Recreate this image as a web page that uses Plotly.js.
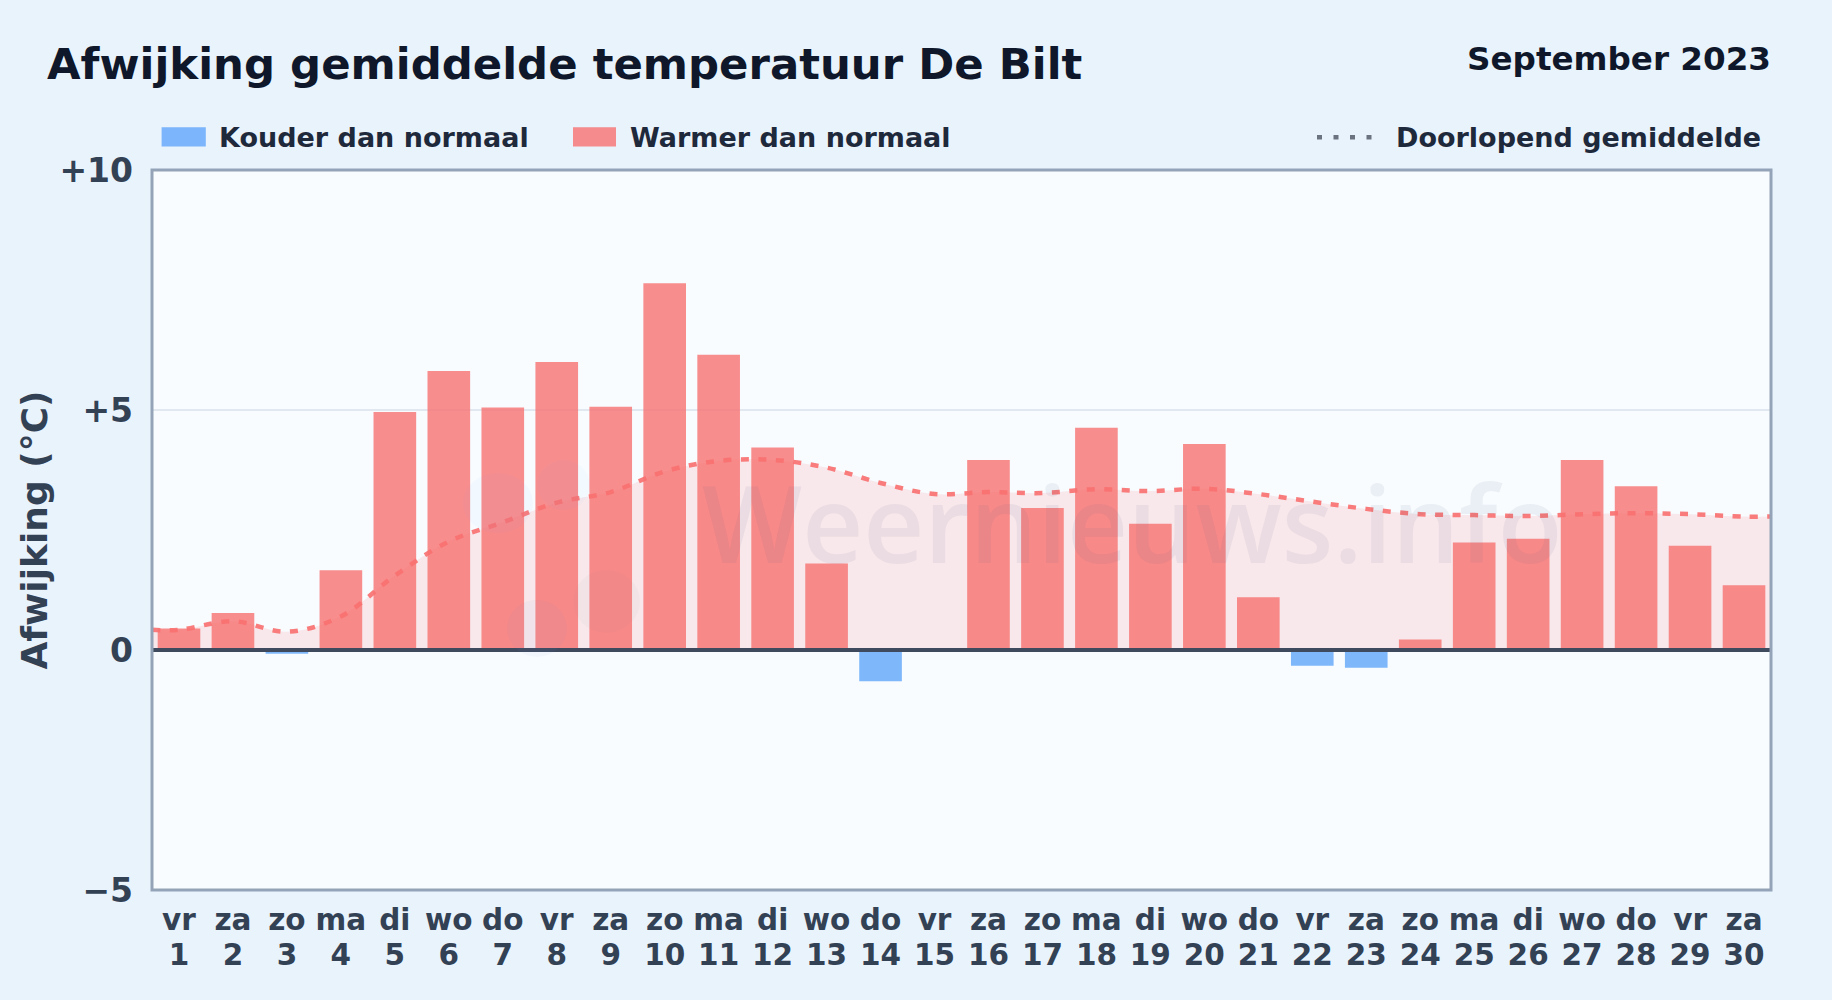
<!DOCTYPE html>
<html><head><meta charset="utf-8">
<script src="https://cdn.plot.ly/plotly-3.0.1.min.js"></script>
<style>html,body{margin:0;padding:0;background:#e9f3fc;width:1832px;height:1000px;overflow:hidden}</style>
</head><body><div id="chart" style="width:1832px;height:1000px"></div>
<script>
const days = [1,2,3,4,5,6,7,8,9,10,11,12,13,14,15,16,17,18,19,20,21,22,23,24,25,26,27,28,29,30];
const weekdays = ['vr','za','zo','ma','di','wo','do','vr','za','zo','ma','di','wo','do','vr','za','zo','ma','di','wo','do','vr','za','zo','ma','di','wo','do','vr','za'];
const warm = [0.45,0.77,null,1.66,4.96,5.81,5.05,6.0,5.07,7.64,6.15,4.22,1.8,null,null,3.96,2.96,4.63,2.63,4.29,1.1,null,null,0.22,2.24,2.32,3.96,3.41,2.17,1.35];
const cold = [null,null,-0.08,null,null,null,null,null,null,null,null,null,null,-0.65,null,null,null,null,null,null,null,-0.33,-0.37,null,null,null,null,null,null,null];
const meanX = [0.5,1,2,3,4,5,6,7,8,9,10,11,12,13,14,15,16,17,18,19,20,21,22,23,24,25,26,27,28,29,30,30.5];
const meanY = [0.42,0.42,0.60,0.38,0.70,1.55,2.26,2.66,3.07,3.29,3.72,3.94,3.96,3.80,3.48,3.25,3.29,3.27,3.35,3.31,3.36,3.25,3.09,2.94,2.83,2.81,2.79,2.83,2.85,2.83,2.78,2.78];
const yTicks = [-5,0,5,10];
const yLabels = ['−5','0','+5','+10'];
const titleText = 'Afwijking gemiddelde temperatuur De Bilt';
const periodText = 'September 2023';
const legendCold = 'Kouder dan normaal';
const legendWarm = 'Warmer dan normaal';
const legendMean = 'Doorlopend gemiddelde';
const watermark = 'Weernieuws.info';

const F = '"DejaVu Sans", sans-serif';
const traces = [
  {type:'scatter',mode:'lines',x:meanX,y:meanY,fill:'tozeroy',fillcolor:'rgba(248,113,113,0.14)',line:{width:0,shape:'spline',smoothing:1,color:'rgba(0,0,0,0)'},showlegend:false,hoverinfo:'skip'},
  {type:'bar',name:legendWarm,x:days,y:warm,width:0.79,marker:{color:'rgba(248,113,113,0.8)',line:{width:0}},showlegend:false},
  {type:'bar',name:legendCold,x:days,y:cold,width:0.79,marker:{color:'rgba(96,165,250,0.8)',line:{width:0}},showlegend:false},
  {type:'scatter',mode:'lines',name:legendMean,x:meanX,y:meanY,line:{color:'rgba(248,113,113,0.92)',width:4.5,shape:'spline',smoothing:1,dash:'8px,9.5px'},showlegend:false}
];
const txt = (text,x,y,size,color,anchor) => ({text:text,xref:'paper',yref:'paper',x:x,y:y,xanchor:anchor,yanchor:'middle',showarrow:false,font:{family:F,size:size,color:color,weight:700}});
const px = v => (v-152)/(1771-152);
const py = v => (890.5-v)/(890.5-169.5);
const tickSpan = s => '<span style="font-size:29.5px">'+s+'</span>';
const blob = (x0,x1,y0,y1,c) => ({type:'circle',layer:'above',xref:'paper',yref:'paper',x0:px(x0),x1:px(x1),y0:py(y1),y1:py(y0),fillcolor:c,line:{width:0}});
const layout = {
  width:1832,height:1000,
  margin:{l:152,r:61,t:169.5,b:109.5,pad:0},
  paper_bgcolor:'#e9f3fc',plot_bgcolor:'#f8fcff',
  barmode:'overlay',showlegend:false,
  font:{family:F},
  xaxis:{range:[0.5,30.5],tickmode:'array',tickvals:days,ticktext:days.map((d,i)=>tickSpan(weekdays[i])+'<br>'+tickSpan(d)),ticks:'',tickangle:0,ticklabelstandoff:12,
    tickfont:{family:F,size:27,color:'#334155',weight:700},showgrid:false,zeroline:false,showline:false,automargin:false},
  yaxis:{range:[-5,10],tickmode:'array',tickvals:yTicks,ticktext:yLabels,ticks:'',ticklabelstandoff:18,
    tickfont:{family:F,size:33,color:'#334155',weight:700},showgrid:true,gridcolor:'#e2e8f0',gridwidth:1.5,
    zeroline:true,zerolinecolor:'#3f4a5f',zerolinewidth:3.5,zerolinelayer:'above traces',showline:false,automargin:false,
    title:{text:'Afwijking (°C)',font:{family:F,size:36,color:'#334155',weight:700},standoff:0}},
  shapes:[
    {type:'rect',layer:'above',xref:'paper',yref:'paper',x0:0,x1:1,y0:0,y1:1,fillcolor:'rgba(0,0,0,0)',line:{color:'#94a3b8',width:3}},
    {type:'rect',xref:'paper',yref:'paper',x0:px(161.6),x1:px(205.8),y0:py(146),y1:py(126.7),fillcolor:'rgba(96,165,250,0.8)',line:{width:0}},
    {type:'rect',xref:'paper',yref:'paper',x0:px(573),x1:px(616),y0:py(146),y1:py(126.7),fillcolor:'rgba(248,113,113,0.8)',line:{width:0}},
    {type:'line',xref:'paper',yref:'paper',x0:px(1317),x1:px(1374),y0:py(136.7),y1:py(136.7),line:{color:'#6b7280',width:4.5,dash:'5px,11.5px'}},
    blob(463,533,473,533,'rgba(96,165,250,0.04)'),
    blob(537,590,460,510,'rgba(96,165,250,0.035)'),
    blob(507,567,600,657,'rgba(100,140,200,0.05)'),
    blob(573,640,570,633,'rgba(100,116,139,0.04)')
  ],
  annotations:[
    txt(titleText,px(45),py(63),43.4,'#0f172a','left'),
    txt(periodText,px(1773),py(58),32.6,'#0f172a','right'),
    txt(legendCold,px(217),py(137),27,'#1e293b','left'),
    txt(legendWarm,px(628),py(137),27,'#1e293b','left'),
    txt(legendMean,px(1763),py(137),27,'#1e293b','right'),
    {text:watermark,xref:'paper',yref:'paper',x:px(1132),y:py(522),xanchor:'center',yanchor:'middle',showarrow:false,font:{family:'"Open Sans", sans-serif',size:106,color:'rgba(71,85,125,0.08)',weight:600}}
  ]
};
Plotly.newPlot('chart',traces,layout,{displayModeBar:false,responsive:false});
</script></body></html>
